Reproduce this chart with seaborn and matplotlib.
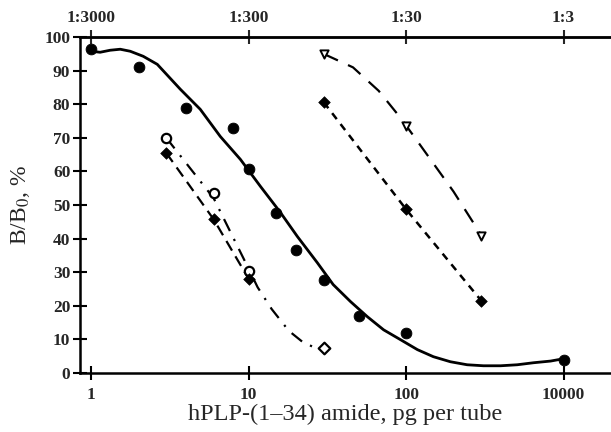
import numpy as np
import pandas as pd
import seaborn as sns
import matplotlib
matplotlib.use("Agg")
import matplotlib.pyplot as plt

# measured points, filled circles (solid fitted curve)
dose_main = [1, 2, 4, 8, 10, 15, 20, 30, 50, 100, 1000]
bb0_main = [96.4, 91, 78.8, 73, 60.6, 47.5, 36.7, 27.8, 17, 11.9, 3.9]
# solid fitted curve
fit_x = [1, 1.14, 1.32, 1.53, 1.77, 2.14, 2.63, 3.68, 4.93, 6.61, 8.86, 11.9, 15.9,
         20.4, 27.3, 34.4, 44.4, 56.8, 72, 91.9, 118, 149, 191, 244, 310, 398, 508, 644, 827, 1000]
fit_y = [95.8, 95.5, 96.1, 96.4, 95.8, 94.3, 91.9, 84.5, 78.5, 70.4, 63.6, 55.5, 47.8,
         40.6, 32.8, 26.3, 21.2, 16.7, 12.8, 9.9, 6.9, 4.8, 3.3, 2.4, 2.1, 2.1, 2.4, 3.0, 3.5, 4.2]

# open circles / open diamond, dash-dot curve
dose_open = [3, 6, 10]
bb0_open = [70, 53.5, 30.4]
dose_open_end = [30]
bb0_open_end = [7.5]
dd_x = [3, 6, 10, 11.4, 14, 18, 22, 26, 30]
dd_y = [70, 52, 31, 25.5, 19, 12.5, 9.2, 7.6, 7.5]

# filled diamonds, left dashed curve
dose_fd = [3, 6, 10]
bb0_fd = [65.5, 45.7, 28]

# filled stars, short dashed line on the right
dose_star = [30, 100, 300]
bb0_star = [80.6, 48.7, 21.5]

# triangles, long dashed curve
dose_tri = [30, 100, 300]
bb0_tri = [95, 73.4, 40.9]
tri_x = [30, 46, 67, 92, 118, 200, 300]
tri_y = [95, 91, 84, 76, 69, 54, 41]

xticks = [1, 10, 100, 1000]
xticklabels = ["1", "10", "100", "10000"]
top_labels = ["1:3000", "1:300", "1:30", "1:3"]
yticks = list(range(0, 101, 10))

sns.set_style("ticks")
plt.rcParams["font.family"] = ["Liberation Serif", "DejaVu Serif"]
plt.rcParams["mathtext.fontset"] = "stix"

fig = plt.figure(figsize=(6.11, 4.32), dpi=100)
ax = fig.add_axes([0.131, 0.137, 0.869, 0.777])

sns.lineplot(x=fit_x, y=fit_y, ax=ax, color="black", lw=2.0)
sns.lineplot(x=dd_x, y=dd_y, ax=ax, color="black", lw=1.6).lines[-1].set_dashes([6, 4, 1, 4])
sns.lineplot(x=dose_fd, y=bb0_fd, ax=ax, color="black", lw=1.6).lines[-1].set_dashes([5, 3])
sns.lineplot(x=dose_star, y=bb0_star, ax=ax, color="black", lw=1.8).lines[-1].set_dashes([3, 2.5])
sns.lineplot(x=tri_x, y=tri_y, ax=ax, color="black", lw=1.6).lines[-1].set_dashes([7, 5])

sns.scatterplot(x=dose_main, y=bb0_main, ax=ax, color="black", s=60, marker="o", edgecolor="black", zorder=5)
sns.scatterplot(x=dose_open, y=bb0_open, ax=ax, facecolor="white", edgecolor="black", linewidth=1.6, s=45, marker="o", zorder=5)
sns.scatterplot(x=dose_open_end, y=bb0_open_end, ax=ax, facecolor="white", edgecolor="black", linewidth=1.6, s=35, marker="D", zorder=5)
sns.scatterplot(x=dose_fd, y=bb0_fd, ax=ax, color="black", s=35, marker="D", edgecolor="black", zorder=5)
sns.scatterplot(x=dose_star, y=bb0_star, ax=ax, color="black", s=35, marker="D", edgecolor="black", zorder=5)
sns.scatterplot(x=dose_tri, y=bb0_tri, ax=ax, facecolor="white", edgecolor="black", linewidth=1.4, s=35, marker="v", zorder=5)

ax.set_xscale("log")
ax.set_xlim(0.85, 2000)
ax.set_ylim(0, 100)
ax.set_xticks(xticks)
ax.set_xticklabels(xticklabels)
ax.xaxis.set_minor_locator(matplotlib.ticker.NullLocator())
ax.set_yticks(yticks)

for lab in ax.get_xticklabels() + ax.get_yticklabels():
    lab.set_fontweight("bold")
    lab.set_fontsize(12.5)

ax.tick_params(axis="both", direction="inout", length=10, width=1.5, color="black")
ax.tick_params(axis="x", pad=5)
ax.tick_params(axis="y", pad=2)

for s in ["left", "bottom", "top"]:
    ax.spines[s].set_linewidth(1.8)
    ax.spines[s].set_color("black")
ax.spines["right"].set_visible(False)

top = ax.secondary_xaxis("top")
top.set_xticks(xticks)
top.set_xticklabels(top_labels)
top.xaxis.set_minor_locator(matplotlib.ticker.NullLocator())
top.tick_params(direction="inout", length=10, width=1.5, pad=3)
top.spines["top"].set_linewidth(1.8)
for lab in top.get_xticklabels():
    lab.set_fontweight("bold")
    lab.set_fontsize(12.5)

ax.set_xlabel("hPLP-(1–34) amide, pg per tube", fontsize=17.5, labelpad=1)
ax.set_ylabel("B/B$_0$, %", fontsize=17, labelpad=9)

fig.savefig("out.png", dpi=100)
